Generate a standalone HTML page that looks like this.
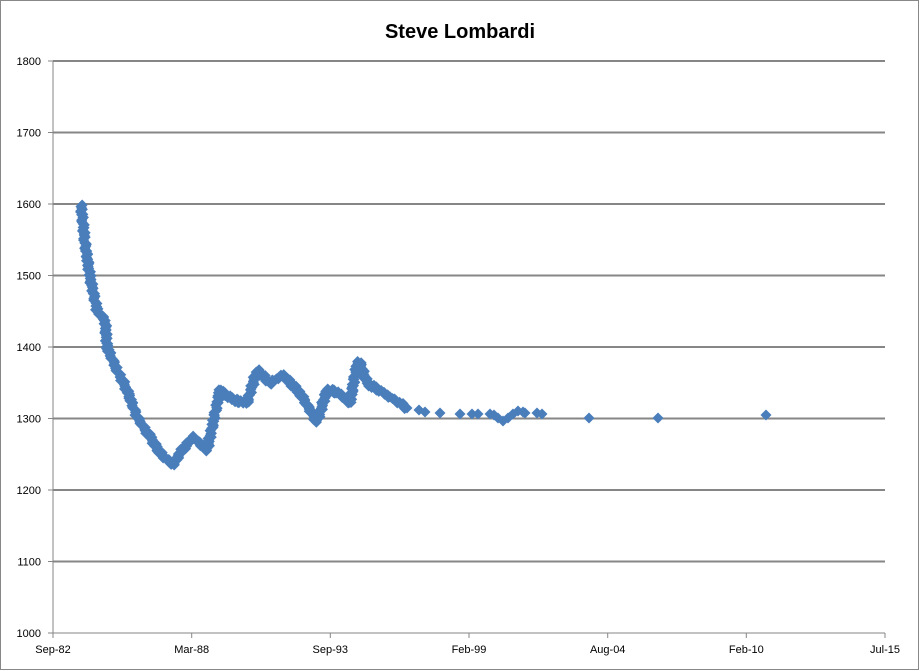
<!DOCTYPE html>
<html><head><style>body{margin:0;background:#fff}svg{display:block}</style></head><body>
<svg id="s" width="920" height="671" xmlns="http://www.w3.org/2000/svg" font-family="Liberation Sans, sans-serif">
<rect x="0.5" y="0.5" width="918" height="669" fill="#fff" stroke="#888"/>
<text x="460" y="38" text-anchor="middle" font-size="20" font-weight="bold">Steve Lombardi</text>
<g stroke="#868686" stroke-width="2">
<line x1="53" y1="61" x2="885" y2="61"/><line x1="53" y1="132.5" x2="885" y2="132.5"/>
<line x1="53" y1="204" x2="885" y2="204"/><line x1="53" y1="275.5" x2="885" y2="275.5"/>
<line x1="53" y1="347" x2="885" y2="347"/><line x1="53" y1="418.5" x2="885" y2="418.5"/>
<line x1="53" y1="490" x2="885" y2="490"/><line x1="53" y1="561.5" x2="885" y2="561.5"/>
</g>
<line x1="53" y1="61" x2="53" y2="633" stroke="#868686"/>
<line x1="53" y1="633" x2="885" y2="633" stroke="#868686"/>
<g stroke="#868686"><line x1="53" y1="633" x2="53" y2="638"/><line x1="191.7" y1="633" x2="191.7" y2="638"/><line x1="330.3" y1="633" x2="330.3" y2="638"/><line x1="469" y1="633" x2="469" y2="638"/><line x1="607.7" y1="633" x2="607.7" y2="638"/><line x1="746.3" y1="633" x2="746.3" y2="638"/><line x1="885" y1="633" x2="885" y2="638"/>
<line x1="48" y1="61" x2="53" y2="61"/><line x1="48" y1="132.5" x2="53" y2="132.5"/><line x1="48" y1="204" x2="53" y2="204"/><line x1="48" y1="275.5" x2="53" y2="275.5"/><line x1="48" y1="347" x2="53" y2="347"/><line x1="48" y1="418.5" x2="53" y2="418.5"/><line x1="48" y1="490" x2="53" y2="490"/><line x1="48" y1="561.5" x2="53" y2="561.5"/><line x1="48" y1="633" x2="53" y2="633"/></g>
<g font-size="11" text-anchor="end" fill="#000">
<text x="41" y="65">1800</text><text x="41" y="136.5">1700</text><text x="41" y="208">1600</text><text x="41" y="279.5">1500</text><text x="41" y="351">1400</text><text x="41" y="422.5">1300</text><text x="41" y="494">1200</text><text x="41" y="565.5">1100</text><text x="41" y="637">1000</text>
</g>
<g font-size="11" text-anchor="middle">
<text x="53" y="653">Sep-82</text><text x="191.7" y="653">Mar-88</text><text x="330.3" y="653">Sep-93</text><text x="469" y="653">Feb-99</text><text x="607.7" y="653">Aug-04</text><text x="746.3" y="653">Feb-10</text><text x="885" y="653">Jul-15</text>
</g>
<g id="d" fill="#4a7ebb"></g>
</svg>
<script>
var k=[[81,205],[85,243],[90,277],[97,310],[105,320],[107,347],[117,370],[127,390],[137,417],[150,437],[160,453],[173,465],[180,453],[193,437],[207,450],[213,423],[220,390],[233,400],[247,403],[257,370],[270,383],[283,375],[300,393],[317,422],[327,390],[337,392],[350,403],[357,363],[360,363],[367,383],[387,395],[407,408]];
var sp=[[419,410],[425,412],[440,413],[460,414],[472,414],[478,414],[490,414],[494,415],[498,418],[503,421],[508,418],[513,414],[518,411],[523,412],[525,413],[537,413],[542,414],[589,418],[658,418],[766,415]];
var pts=[];
for(var i=0;i<k.length-1;i++){var a=k[i],b=k[i+1],d=Math.hypot(b[0]-a[0],b[1]-a[1]),n=Math.max(1,Math.ceil(d/1.5));for(var j=0;j<n;j++){var t=j/n;pts.push([a[0]+(b[0]-a[0])*t+Math.sin(i*7+j)*1.2,a[1]+(b[1]-a[1])*t+Math.cos(i*5+j*3)*1.5]);}}
pts.push(k[k.length-1]);pts=pts.concat(sp);
var g=document.getElementById('d'),h='',r=5.5;
pts.forEach(function(p){var x=p[0],y=p[1];h+='<path d="M'+x+' '+(y-r)+'L'+(x+r)+' '+y+'L'+x+' '+(y+r)+'L'+(x-r)+' '+y+'Z"/>';});
g.innerHTML=h;
</script>
</body></html>
